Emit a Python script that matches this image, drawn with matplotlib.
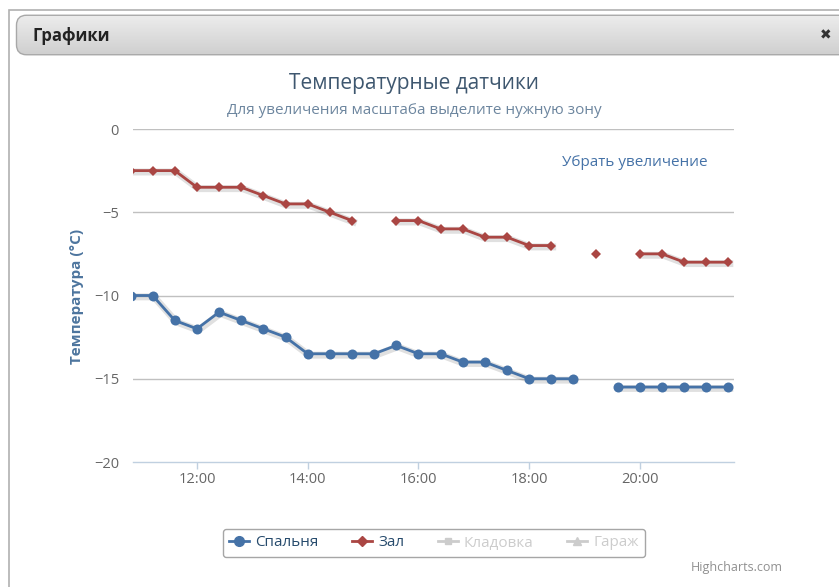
import matplotlib
matplotlib.use("Agg")
import matplotlib.pyplot as plt
import matplotlib.patheffects as pe
from matplotlib.patches import FancyBboxPatch, Rectangle
from matplotlib.lines import Line2D
import numpy as np

plt.rcParams['font.family'] = ['Open Sans', 'DejaVu Sans']

# readings every 24 minutes, None = no data
times = ["10:48", "11:12", "11:36", "12:00", "12:24", "12:48", "13:12", "13:36",
         "14:00", "14:24", "14:48", "15:12", "15:36", "16:00", "16:24", "16:48",
         "17:12", "17:36", "18:00", "18:24", "18:48", "19:12", "19:36", "20:00",
         "20:24", "20:48", "21:12", "21:36"]
bedroom = [-10, -10, -11.5, -12, -11, -11.5, -12, -12.5,
           -13.5, -13.5, -13.5, -13.5, -13, -13.5, -13.5, -14,
           -14, -14.5, -15, -15, -15, None, -15.5, -15.5,
           -15.5, -15.5, -15.5, -15.5]
hall = [-2.5, -2.5, -2.5, -3.5, -3.5, -3.5, -4, -4.5,
        -4.5, -5, -5.5, None, -5.5, -5.5, -6, -6,
        -6.5, -6.5, -7, -7, None, -7.5, None, -7.5,
        -7.5, -8, -8, -8]
series_names = ["Спальня", "Зал", "Кладовка", "Гараж"]
xticks = ["12:00", "14:00", "16:00", "18:00", "20:00"]
yticks = [0, -5, -10, -15, -20]


def to_hours(t):
    h, m = t.split(":")
    return int(h) + int(m) / 60


x = np.array([to_hours(t) for t in times])
y_bed = np.array([np.nan if v is None else v for v in bedroom], dtype=float)
y_hall = np.array([np.nan if v is None else v for v in hall], dtype=float)

W, H = 839, 587
fig = plt.figure(figsize=(W / 100, H / 100), dpi=100)
fig.patch.set_facecolor("white")


def fx(px):
    return px / W


def fy(py):
    return 1 - py / H


# dialog frame
fig.add_artist(Rectangle((fx(9), fy(590)), fx(840), fy(10) - fy(590),
                         transform=fig.transFigure, facecolor="white",
                         edgecolor="#b0b0b0", linewidth=1.2, zorder=0))

# title bar with vertical gradient
bar_ax = fig.add_axes([fx(14), fy(56), fx(840 - 14), fy(14) - fy(56)])
grad = np.linspace(0, 1, 64).reshape(-1, 1)
c_top = np.array([0.93, 0.93, 0.93])
c_bot = np.array([0.81, 0.81, 0.81])
img = c_top + (c_bot - c_top) * grad[..., None]
bar_ax.imshow(img, aspect="auto", extent=[0, 1, 0, 1], origin="upper")
clip = FancyBboxPatch((0.003, 0.03), 1.2, 0.94, boxstyle="round,pad=0,rounding_size=0.012",
                      transform=bar_ax.transAxes, facecolor="none",
                      edgecolor="#a8a8a8", linewidth=1.0, mutation_aspect=20)
bar_ax.add_patch(clip)
bar_ax.images[0].set_clip_path(clip)
bar_ax.set_xlim(0, 1)
bar_ax.set_ylim(0, 1)
bar_ax.axis("off")
fig.text(fx(32), fy(36), "Графики", fontsize=12, fontweight="bold",
         color="#222222", va="center", ha="left")
fig.text(fx(826), fy(35), "✖", fontsize=10, color="#333333", va="center", ha="center",
         family=["DejaVu Sans"])

# chart
ax = fig.add_axes([fx(133), fy(462), fx(734) - fx(133), fy(129) - fy(462)])
ax.set_xlim(10.845, 21.70)
ax.set_ylim(-20, 0)

shadow = [pe.SimpleLineShadow(offset=(1, -1), shadow_color="black", alpha=0.12, linewidth=5),
          pe.Normal()]
for yv, col, mk, ms in [(y_bed, "#4572A7", "o", 7.2), (y_hall, "#AA4643", "D", 5.0)]:
    ax.plot(x, yv, color=col, linewidth=2, path_effects=shadow, zorder=3)
    ax.plot(x, yv, linestyle="none", marker=mk, markersize=ms, color=col,
            markeredgewidth=0, zorder=4)

ax.set_yticks(yticks)
ax.set_yticklabels([str(v).replace("-", "−") for v in yticks])
ax.set_xticks([to_hours(t) for t in xticks])
ax.set_xticklabels(xticks)
for v in yticks[:-1]:
    ax.axhline(v, color="#c0c0c0", linewidth=1, zorder=1)
for s in ["top", "right", "left"]:
    ax.spines[s].set_visible(False)
ax.spines["bottom"].set_color("#c0d0e0")
ax.spines["bottom"].set_linewidth(1)
ax.tick_params(axis="y", length=0, pad=10, labelsize=10.5, labelcolor="#666666")
ax.tick_params(axis="x", length=5, width=1, color="#c0d0e0", pad=2,
               labelsize=10.5, labelcolor="#666666")
ax.set_ylabel("Температура (°C)", fontsize=11, fontweight="bold", color="#4d759e",
              va="center")
ax.yaxis.set_label_coords((77 - 133) / (734 - 133), (462 - 296) / (462 - 129))

fig.text(fx(414), fy(84), "Температурные датчики", fontsize=15,
         color="#3e576f", ha="center", va="center")
fig.text(fx(414), fy(111), "Для увеличения масштаба выделите нужную зону", fontsize=11,
         color="#6d869f", ha="center", va="center")
fig.text(fx(635), fy(162), "Убрать увеличение", fontsize=11,
         color="#4572A7", ha="center", va="center")

# legend
handles = [
    Line2D([], [], color="#4572A7", linewidth=2, marker="o", markersize=7),
    Line2D([], [], color="#AA4643", linewidth=2, marker="D", markersize=5),
    Line2D([], [], color="#cccccc", linewidth=2, marker="s", markersize=5),
    Line2D([], [], color="#cccccc", linewidth=2, marker="^", markersize=6),
]
leg = fig.legend(handles, series_names, loc="center", bbox_to_anchor=(fx(434), fy(543)),
                 ncol=4, frameon=True, fontsize=11, handlelength=1.3, handletextpad=0.4,
                 columnspacing=2.2, borderpad=0.45, fancybox=True)
leg.get_frame().set_edgecolor("#909090")
leg.get_frame().set_linewidth(1)
for txt, col in zip(leg.get_texts(), ["#274b6d", "#274b6d", "#cccccc", "#cccccc"]):
    txt.set_color(col)

fig.text(fx(737), fy(567), "Highcharts.com", fontsize=9, color="#909090",
         ha="center", va="center")

fig.savefig("out.png", dpi=100)
